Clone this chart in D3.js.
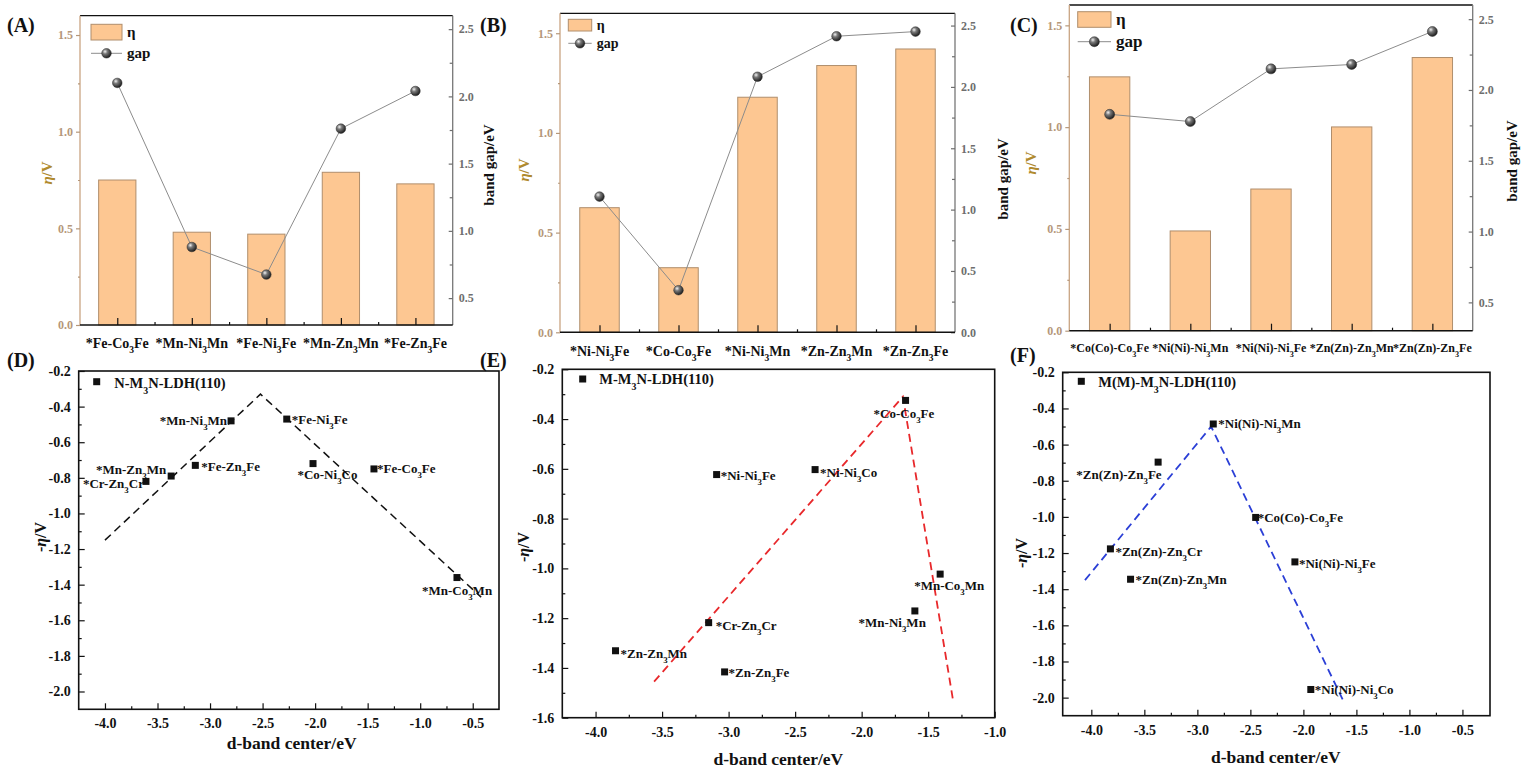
<!DOCTYPE html>
<html><head><meta charset="utf-8">
<script src="https://cdn.jsdelivr.net/npm/d3@7"></script>
<style>
body{margin:0;background:#fff}
svg{display:block}
text{font-family:"Liberation Serif","Times New Roman",serif;font-weight:bold}
</style>
</head><body>
<svg id="c" width="1524" height="772"></svg>
<script>
// ---------------- DATA ----------------
// Bar panels (A)-(C): overpotential eta (V) and band gap (eV)
const catsA = ["*Fe-Co{3}Fe","*Mn-Ni{3}Mn","*Fe-Ni{3}Fe","*Mn-Zn{3}Mn","*Fe-Zn{3}Fe"];
const etaA  = [0.75, 0.48, 0.47, 0.79, 0.73];
const gapA  = [2.10, 0.88, 0.675, 1.76, 2.04];

const catsB = ["*Ni-Ni{3}Fe","*Co-Co{3}Fe","*Ni-Ni{3}Mn","*Zn-Zn{3}Mn","*Zn-Zn{3}Fe"];
const etaB  = [0.625, 0.324, 1.179, 1.338, 1.421];
const gapB  = [1.106, 0.343, 2.083, 2.413, 2.451];

const catsC = ["*Co(Co)-Co{3}Fe","*Ni(Ni)-Ni{3}Mn","*Ni(Ni)-Ni{3}Fe","*Zn(Zn)-Zn{3}Mn","*Zn(Zn)-Zn{3}Fe"];
const etaC  = [1.247, 0.490, 0.696, 1.001, 1.342];
const gapC  = [1.828, 1.777, 2.149, 2.180, 2.413];

const etaTicks   = [0.0, 0.5, 1.0, 1.5];
const gapTicksAC = [0.5, 1.0, 1.5, 2.0, 2.5];
const gapTicksB  = [0.0, 0.5, 1.0, 1.5, 2.0, 2.5];

// Scatter panels (D)-(F): d-band center (eV) vs -eta (V)
const namesD  = ["*Cr-Zn{3}Cr","*Mn-Zn{3}Mn","*Fe-Zn{3}Fe","*Mn-Ni{3}Mn","*Fe-Ni{3}Fe","*Co-Ni{3}Co","*Fe-Co{3}Fe","*Mn-Co{3}Mn"];
const dbandD  = [-3.61, -3.37, -3.14, -2.80, -2.27, -2.02, -1.44, -0.65];
const negEtaD = [-0.82, -0.79, -0.73, -0.48, -0.47, -0.72, -0.75, -1.36];
const trendXD = [-4.00, -2.52, -0.42];
const trendYD = [-1.15, -0.33, -1.47];

const namesE  = ["*Co-Co{3}Fe","*Ni-Ni{3}Fe","*Ni-Ni{3}Co","*Mn-Co{3}Mn","*Mn-Ni{3}Mn","*Cr-Zn{3}Cr","*Zn-Zn{3}Mn","*Zn-Zn{3}Fe"];
const dbandE  = [-1.67, -3.09, -2.35, -1.41, -1.60, -3.15, -3.85, -3.03];
const negEtaE = [-0.325, -0.623, -0.603, -1.023, -1.171, -1.218, -1.331, -1.416];
const trendXE = [-3.56, -1.69, -1.31];
const trendYE = [-1.455, -0.31, -1.54];

const namesF  = ["*Ni(Ni)-Ni{3}Mn","*Zn(Zn)-Zn{3}Fe","*Co(Co)-Co{3}Fe","*Zn(Zn)-Zn{3}Cr","*Ni(Ni)-Ni{3}Fe","*Zn(Zn)-Zn{3}Mn","*Ni(Ni)-Ni{3}Co"];
const dbandF  = [-2.85, -3.37, -2.45, -3.82, -2.08, -3.63, -1.93];
const negEtaF = [-0.486, -0.697, -1.003, -1.177, -1.249, -1.345, -1.955];
const trendXF = [-4.06, -2.87, -1.63];
const trendYF = [-1.35, -0.50, -2.01];

const xTicksDF = [-4.0, -3.5, -3.0, -2.5, -2.0, -1.5, -1.0, -0.5];
const xTicksE  = [-4.0, -3.5, -3.0, -2.5, -2.0, -1.5, -1.0];
const yTicksDF = [-0.2, -0.4, -0.6, -0.8, -1.0, -1.2, -1.4, -1.6, -1.8, -2.0];
const yTicksE  = [-0.2, -0.4, -0.6, -0.8, -1.0, -1.2, -1.4, -1.6];

// ---------------- LAYOUT / STYLE ----------------
const FONT_BAR = "#fdc792", STROKE_BAR = "#b08e6c";
const TAN = "#b5977a", GOLD = "#b08a2e", GREY = "#6e6e6e";

// label placement for scatter points: [anchor, dx, dy]
const labPosD = [["end",-2,6.5],["end",-5,-2],["start",6,6],["end",-4,4.5],["start",5,4.5],["start",-15.6,15.5],["start",3,4.5],["start",-35,17]];
const labPosE = [["start",-32,18],["start",4,5],["start",5,7],["start",-26,16],["end",11,16],["start",7,7.5],["start",5,7.5],["start",4,5]];
const labPosF = [["start",5,4.5],["end",3.5,16.5],["start",2,4.5],["start",5,7],["start",4,6],["start",5,4.5],["start",4,5]];

const svg = d3.select("#c");
const defs = svg.append("defs");
const rg = defs.append("radialGradient").attr("id","ball").attr("cx","35%").attr("cy","32%").attr("r","70%");
rg.append("stop").attr("offset","0%").attr("stop-color","#f2f2f2");
rg.append("stop").attr("offset","35%").attr("stop-color","#7a7a7a");
rg.append("stop").attr("offset","100%").attr("stop-color","#1b1b1b");

function rich(sel, str) {
  str.split(/(\{[^}]*\})/).filter(Boolean).forEach(p => {
    if (p[0] === "{") sel.append("tspan").attr("baseline-shift","sub").attr("font-size","68%").text(p.slice(1,-1));
    else sel.append("tspan").text(p);
  });
  return sel;
}
function mids(arr){ const r=[]; for(let i=0;i<arr.length-1;i++) r.push((arr[i]+arr[i+1])/2); return r; }
const fmt1 = d => d.toFixed(1);

function styleAxis(g, color, fs) {
  g.select(".domain").remove();
  g.selectAll("line").attr("stroke", color).attr("stroke-width", 1.2);
  g.selectAll("text").attr("fill", color).attr("font-size", fs)
    .attr("font-family","Liberation Serif, Times New Roman, serif").attr("font-weight","bold");
}

// ---------------- BAR PANELS ----------------
function barPanel(c) {
  const g = svg.append("g");
  const x = d3.scaleBand().domain(d3.range(c.cats.length)).range([c.l, c.r]).paddingInner(0.5).paddingOuter(0.25);
  const xl = d3.scaleLinear().domain([0, c.cats.length]).range([c.l, c.r]);
  const yL = d3.scaleLinear().domain([0, 1.6]).range([c.b, c.t]);
  const yR = d3.scaleLinear().domain(c.gapDomain).range([c.b, c.t]);
  const cx = i => x(i) + x.bandwidth()/2;

  g.selectAll("rect.bar").data(c.eta).join("rect").attr("class","bar")
    .attr("x",(d,i)=>x(i)).attr("width",x.bandwidth())
    .attr("y",d=>yL(d)).attr("height",d=>yL(0)-yL(d))
    .attr("fill",FONT_BAR).attr("stroke",STROKE_BAR).attr("stroke-width",1);

  // frame
  g.append("line").attr("x1",c.l).attr("x2",c.r).attr("y1",c.t).attr("y2",c.t).attr("stroke","#111").attr("stroke-width",1.3);
  g.append("line").attr("x1",c.l).attr("x2",c.l).attr("y1",c.t).attr("y2",c.b).attr("stroke","#c9a482").attr("stroke-width",1.3);
  g.append("line").attr("x1",c.r).attr("x2",c.r).attr("y1",c.t).attr("y2",c.b).attr("stroke","#777").attr("stroke-width",1.3);

  // left axis
  const la = g.append("g").attr("transform",`translate(${c.l},0)`)
    .call(d3.axisLeft(yL).tickValues(etaTicks).tickSizeInner(4).tickSizeOuter(0).tickPadding(3).tickFormat(fmt1));
  styleAxis(la, TAN, 12);
  const lam = g.append("g").attr("transform",`translate(${c.l},0)`)
    .call(d3.axisLeft(yL).tickValues(mids(etaTicks)).tickSizeInner(2).tickSizeOuter(0).tickFormat(""));
  styleAxis(lam, TAN, 12);

  // right axis
  const ra = g.append("g").attr("transform",`translate(${c.r},0)`)
    .call(d3.axisRight(yR).tickValues(c.gapTicks).tickSizeInner(-4).tickSizeOuter(0).tickPadding(6).tickFormat(fmt1));
  styleAxis(ra, GREY, 12);
  const rminor = mids(c.gapTicks);
  const ram = g.append("g").attr("transform",`translate(${c.r},0)`)
    .call(d3.axisRight(yR).tickValues(rminor).tickSizeInner(-3).tickSizeOuter(0).tickFormat(""));
  styleAxis(ram, GREY, 12);

  // bottom axis
  const ba = g.append("g").attr("transform",`translate(0,${c.b})`)
    .call(d3.axisBottom(xl).tickValues(d3.range(c.cats.length).map(i=>i+0.5)).tickSizeInner(-7).tickSizeOuter(0).tickFormat(""));
  styleAxis(ba, "#111", 12);
  const bam = g.append("g").attr("transform",`translate(0,${c.b})`)
    .call(d3.axisBottom(xl).tickValues(d3.range(1, c.cats.length)).tickSizeInner(-3).tickSizeOuter(0).tickFormat(""));
  styleAxis(bam, "#111", 12);
  g.append("line").attr("x1",c.l).attr("x2",c.r).attr("y1",c.b).attr("y2",c.b).attr("stroke","#111").attr("stroke-width",1.6);

  // category labels
  c.cats.forEach((s,i) => {
    rich(g.append("text").attr("x",cx(i)).attr("y",c.catY).attr("text-anchor","middle")
      .attr("font-size",c.catSize).attr("fill","#111"), s);
  });

  // gap line + balls
  g.append("path").datum(c.gap).attr("fill","none").attr("stroke","#8c8c8c").attr("stroke-width",1)
    .attr("d", d3.line().x((d,i)=>cx(i)).y(d=>yR(d)));
  g.selectAll("circle.gap").data(c.gap).join("circle").attr("class","gap")
    .attr("cx",(d,i)=>cx(i)).attr("cy",d=>yR(d)).attr("r",c.ballR).attr("fill","url(#ball)")
    .attr("stroke","#2a2a2a").attr("stroke-width",0.5);

  // legend
  const L = c.legend;
  g.append("rect").attr("x",L.x).attr("y",L.y).attr("width",L.w).attr("height",L.h)
    .attr("fill",FONT_BAR).attr("stroke",STROKE_BAR).attr("stroke-width",1);
  g.append("text").attr("x",L.tx).attr("y",L.y+L.h/2+L.fs*0.33).attr("font-size",L.fs).attr("fill","#111").text("η");
  g.append("line").attr("x1",L.x).attr("x2",L.x+L.w).attr("y1",L.ly).attr("y2",L.ly).attr("stroke","#8c8c8c");
  g.append("circle").attr("cx",L.x+L.w/2).attr("cy",L.ly).attr("r",c.ballR).attr("fill","url(#ball)")
    .attr("stroke","#2a2a2a").attr("stroke-width",0.5);
  g.append("text").attr("x",L.tx).attr("y",L.ly+L.fs*0.3).attr("font-size",L.fs).attr("fill","#111").text("gap");

  // titles
  const lt = g.append("text").attr("transform",`translate(${c.yTitle[0]},${c.yTitle[1]}) rotate(-90)`)
    .attr("text-anchor","middle").attr("dy","0.35em").attr("font-size",15).attr("fill",GOLD);
  lt.append("tspan").attr("font-style","italic").text("η");
  lt.append("tspan").text("/V");
  g.append("text").attr("transform",`translate(${c.rTitle[0]},${c.rTitle[1]}) rotate(-90)`)
    .attr("text-anchor","middle").attr("dy","0.35em").attr("font-size",15).attr("fill","#111").text("band gap/eV");

  g.append("text").attr("x",c.tag[0]).attr("y",c.tag[1]).attr("font-size",20).attr("fill","#111").text(c.tagText);
}

barPanel({cats:catsA, eta:etaA, gap:gapA, gapDomain:[0.3,2.6], gapTicks:gapTicksAC,
  l:80, r:452.7, t:15.7, b:325, catY:347.5, catSize:14, ballR:4.8,
  legend:{x:91,y:24.3,w:31,h:15.7,tx:127,fs:15,ly:53.3},
  yTitle:[47,173], rTitle:[489,165], tag:[7,32], tagText:"(A)"});
barPanel({cats:catsB, eta:etaB, gap:gapB, gapDomain:[0,2.6], gapTicks:gapTicksB,
  l:560, r:955, t:13.3, b:332.3, catY:356, catSize:14, ballR:4.8,
  legend:{x:568.3,y:19.3,w:23.4,h:11.7,tx:596.7,fs:14,ly:43.3},
  yTitle:[524,170], rTitle:[1003,179], tag:[480,32], tagText:"(B)"});
barPanel({cats:catsC, eta:etaC, gap:gapC, gapDomain:[0.3,2.6], gapTicks:gapTicksAC,
  l:1069.3, r:1472.7, t:5, b:330.7, catY:351.5, catSize:12, ballR:5,
  legend:{x:1077.7,y:11.7,w:33.3,h:15.6,tx:1116,fs:17,ly:41.7},
  yTitle:[1031,163], rTitle:[1512,161], tag:[1010,32], tagText:"(C)"});

// ---------------- SCATTER PANELS ----------------
function scatterPanel(c) {
  const g = svg.append("g");
  const x = d3.scaleLinear().domain(c.xDom).range([c.l, c.r]);
  const y = d3.scaleLinear().domain(c.yDom).range([c.b, c.t]);

  g.append("rect").attr("x",c.l).attr("y",c.t).attr("width",c.r-c.l).attr("height",c.b-c.t)
    .attr("fill","none").attr("stroke","#111").attr("stroke-width",1.6);

  const ax = g.append("g").attr("transform",`translate(0,${c.b})`)
    .call(d3.axisBottom(x).tickValues(c.xTicks).tickSizeInner(-6).tickSizeOuter(0).tickPadding(9).tickFormat(fmt1));
  styleAxis(ax, "#111", 14);
  const axm = g.append("g").attr("transform",`translate(0,${c.b})`)
    .call(d3.axisBottom(x).tickValues(mids(c.xTicks)).tickSizeInner(-3).tickSizeOuter(0).tickFormat(""));
  styleAxis(axm, "#111", 14);
  const ay = g.append("g").attr("transform",`translate(${c.l},0)`)
    .call(d3.axisLeft(y).tickValues(c.yTicks).tickSizeInner(-6).tickSizeOuter(0).tickPadding(8).tickFormat(fmt1));
  styleAxis(ay, "#111", 14);
  const aym = g.append("g").attr("transform",`translate(${c.l},0)`)
    .call(d3.axisLeft(y).tickValues(mids(c.yTicks)).tickSizeInner(-3).tickSizeOuter(0).tickFormat(""));
  styleAxis(aym, "#111", 14);

  // trend line
  g.append("path").datum(d3.range(c.tx.length)).attr("fill","none").attr("stroke",c.lineColor)
    .attr("stroke-width",c.lineW).attr("stroke-dasharray","8,5")
    .attr("d", d3.line().x(i=>x(c.tx[i])).y(i=>y(c.ty[i])));

  // points
  const S = 7;
  g.selectAll("rect.pt").data(c.px).join("rect").attr("class","pt")
    .attr("x",(d,i)=>x(d)-S/2).attr("y",(d,i)=>y(c.py[i])-S/2).attr("width",S).attr("height",S).attr("fill","#111");
  c.names.forEach((s,i) => {
    const p = c.pos[i];
    rich(g.append("text").attr("x",x(c.px[i])+p[1]).attr("y",y(c.py[i])+p[2]).attr("text-anchor",p[0])
      .attr("font-size",13).attr("fill","#111"), s);
  });

  // legend
  g.append("rect").attr("x",c.leg[0]-S/2).attr("y",c.leg[1]-S/2).attr("width",S).attr("height",S).attr("fill","#111");
  rich(g.append("text").attr("x",c.leg[2]).attr("y",c.leg[3]).attr("font-size",14.5).attr("fill","#111"), c.legText);

  // titles
  const yt = g.append("text").attr("transform",`translate(${c.yTitle[0]},${c.yTitle[1]}) rotate(-90)`)
    .attr("text-anchor","middle").attr("dy","0.35em").attr("font-size",16).attr("fill","#111");
  yt.append("tspan").text("-");
  yt.append("tspan").attr("font-style","italic").text("η");
  yt.append("tspan").text("/V");
  g.append("text").attr("x",c.xTitle[0]).attr("y",c.xTitle[1]).attr("text-anchor","middle")
    .attr("font-size",17.5).attr("fill","#111").text("d-band center/eV");
  g.append("text").attr("x",c.tag[0]).attr("y",c.tag[1]).attr("font-size",20).attr("fill","#111").text(c.tagText);
}

scatterPanel({names:namesD, px:dbandD, py:negEtaD, tx:trendXD, ty:trendYD, pos:labPosD,
  xDom:[-4.25,-0.25], yDom:[-2.1,-0.2], xTicks:xTicksDF, yTicks:yTicksDF,
  l:78.7, r:499, t:371, b:709.3, lineColor:"#111", lineW:1.5,
  leg:[96.7,381.7,114.3,387.7], legText:"N-M{3}N-LDH(110)",
  yTitle:[40,537], xTitle:[291.7,749], tag:[7,367], tagText:"(D)"});
scatterPanel({names:namesE, px:dbandE, py:negEtaE, tx:trendXE, ty:trendYE, pos:labPosE,
  xDom:[-4.25,-1.0], yDom:[-1.6,-0.2], xTicks:xTicksE, yTicks:yTicksE,
  l:562.3, r:994.7, t:369.3, b:717.7, lineColor:"#e8282b", lineW:1.8,
  leg:[582.7,379,599.3,384.3], legText:"M-M{3}N-LDH(110)",
  yTitle:[523,547], xTitle:[778.3,764.5], tag:[480,367], tagText:"(E)"});
scatterPanel({names:namesF, px:dbandF, py:negEtaF, tx:trendXF, ty:trendYF, pos:labPosF,
  xDom:[-4.27,-0.24], yDom:[-2.1,-0.2], xTicks:xTicksDF, yTicks:yTicksDF,
  l:1062.7, r:1490, t:372.3, b:715.7, lineColor:"#2b3fd6", lineW:1.8,
  leg:[1081.3,381.3,1098.3,386.7], legText:"M(M)-M{3}N-LDH(110)",
  yTitle:[1021,553], xTitle:[1275.8,763], tag:[1010,362], tagText:"(F)"});
</script>
</body></html>
